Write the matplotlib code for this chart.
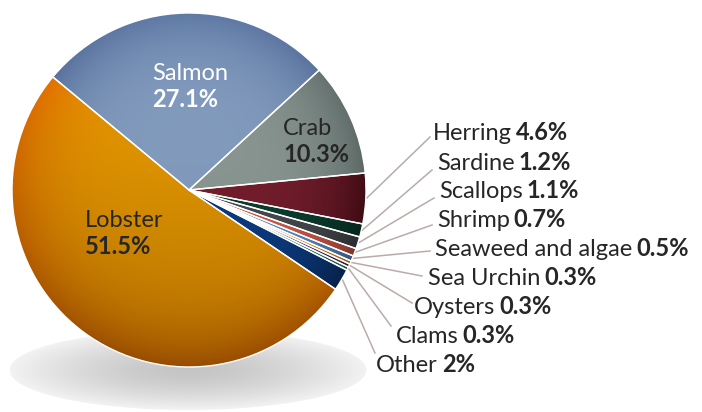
import matplotlib
matplotlib.use("Agg")
import matplotlib.pyplot as plt
from matplotlib.patches import Ellipse
import matplotlib.colors as mcolors
import numpy as np

# data (shares of landed value, %)
species = ["Salmon", "Crab", "Herring", "Sardine", "Scallops", "Shrimp",
           "Seaweed and algae", "Sea Urchin", "Oysters", "Clams", "Other", "Lobster"]
shares = [27.1, 10.3, 4.6, 1.2, 1.1, 0.7, 0.5, 0.3, 0.3, 0.3, 2.0, 51.5]
share_labels = ["27.1%", "10.3%", "4.6%", "1.2%", "1.1%", "0.7%", "0.5%",
                "0.3%", "0.3%", "0.3%", "2%", "51.5%"]
colors = ["#7f97b9", "#879490", "#701c2c", "#0b3d2f", "#46494e", "#cf5a48",
          "#5c8dcc", "#eb9c10", "#5a2a7c", "#2a8a6a", "#0c3a7e", "#dd9600"]
# gradient ends: (top, bottom, rim)
grad = {"Salmon": ("#86a0c2", "#7a92b4", "#4e6795"),
        "Crab": ("#8e9a96", "#808d89", "#5c6966"),
        "Herring": ("#7a2030", "#6a1a28", "#3a0810"),
        "Lobster": ("#f4a400", "#b87600", "#e86800")}

# layout (pixel coords, y measured from top of image)
W, H = 702, 412
cx, cy, R = 189, 190, 177
small_text_xy = [(433, 140), (437, 170), (439, 198), (437, 227), (435, 256),
                 (428, 285), (414, 314), (396, 343), (376, 372)]
leader_end = [(430, 137), (432, 170), (434, 198), (432, 225), (430, 251),
              (422, 276), (412, 303), (391, 326), (375, 353)]
inside_xy = {"Salmon": (152, 80, "white"), "Crab": (283, 135, "#262626"),
             "Lobster": (85, 227, "#262626")}

FONT = "Lato"
FS = 17

fig = plt.figure(figsize=(W / 100, H / 100), dpi=100)
ax = fig.add_axes([0, 0, 1, 1])

def Y(y):
    return H - y

# shadow under the pie
ex, ey, ew, eh = 188, 370, 357, 80
gx = np.linspace(ex - ew / 2, ex + ew / 2, 300)
gy = np.linspace(Y(ey) - eh / 2, Y(ey) + eh / 2, 120)
GX, GY = np.meshgrid(gx, gy)
rr = np.sqrt(((GX - ex) / (ew / 2)) ** 2 + ((GY - Y(ey)) / (eh / 2)) ** 2)
shade = np.clip(0.77 + 0.18 * rr ** 1.5, 0, 1)
img = ax.imshow(np.dstack([shade] * 3), extent=(gx[0], gx[-1], gy[0], gy[-1]),
                origin="lower", zorder=1, interpolation="bilinear")
ell = Ellipse((ex, Y(ey)), ew, eh, transform=ax.transData)
img.set_clip_path(ell)

wedges, _ = ax.pie(shares, colors=colors, startangle=140.3, counterclock=False,
                   center=(cx, Y(cy)), radius=R,
                   wedgeprops=dict(edgecolor="white", linewidth=1.0))

# shading on each slice: vertical gradient, darker towards the rim
n = 400
px = np.linspace(-1, 1, n)
PX, PY = np.meshgrid(px, px)
r = np.clip(np.sqrt(PX ** 2 + PY ** 2), 0, 1)
v = ((1 - PY) / 2)[:, :, None]
t = (r ** 4)[:, :, None]
for w, c, name in zip(wedges, colors, species):
    base = np.array(mcolors.to_rgb(c))
    if name in grad:
        top, bot, rim = [np.array(mcolors.to_rgb(g)) for g in grad[name]]
    else:
        top, bot, rim = base * 1.08, base * 0.92, base * 0.65
    inner = top * (1 - v) + bot * v
    rimc = rim * (1.05 - 0.45 * v)
    rgb = np.clip(inner * (1 - 0.75 * t) + rimc * 0.75 * t, 0, 1)
    im = ax.imshow(rgb, extent=(cx - R, cx + R, Y(cy) - R, Y(cy) + R),
                   origin="lower", zorder=2, interpolation="bilinear")
    im.set_clip_path(w)
    w.set_facecolor("none")
    w.set_zorder(3)
ax.set_xlim(0, W)
ax.set_ylim(0, H)
ax.set_aspect("auto")

# labels inside
for name, (tx, ty, tc) in inside_xy.items():
    i = species.index(name)
    ax.text(tx, Y(ty), name, fontsize=FS, family=FONT, color=tc, va="baseline", zorder=4)
    ax.text(tx, Y(ty + 27), share_labels[i], fontsize=FS, family=FONT,
            fontweight="bold", color=tc, va="baseline", zorder=4)

# small slices with leader lines
theta = 140.3
mids = []
for s in shares:
    mids.append(theta - s * 3.6 / 2)
    theta -= s * 3.6

fig.canvas.draw()
renderer = fig.canvas.get_renderer()
inv = ax.transData.inverted()
for k in range(9):
    i = k + 2
    a = np.deg2rad(mids[i])
    sx, sy = cx + R * 1.005 * np.cos(a), Y(cy) + R * 1.005 * np.sin(a)
    exx, eyy = leader_end[k]
    ax.plot([sx, exx], [sy, Y(eyy)], color="#b9aca8", lw=1.1, zorder=1)
    tx, ty = small_text_xy[k]
    t_ = ax.text(tx, Y(ty), species[i], fontsize=FS, family=FONT,
                 color="#262626", va="baseline")
    bb = t_.get_window_extent(renderer)
    x1 = inv.transform((bb.x1, bb.y0))[0]
    ax.text(x1 + 4, Y(ty), share_labels[i], fontsize=FS, family=FONT,
            fontweight="bold", color="#262626", va="baseline")

ax.axis("off")
fig.savefig("out.png", dpi=100)
